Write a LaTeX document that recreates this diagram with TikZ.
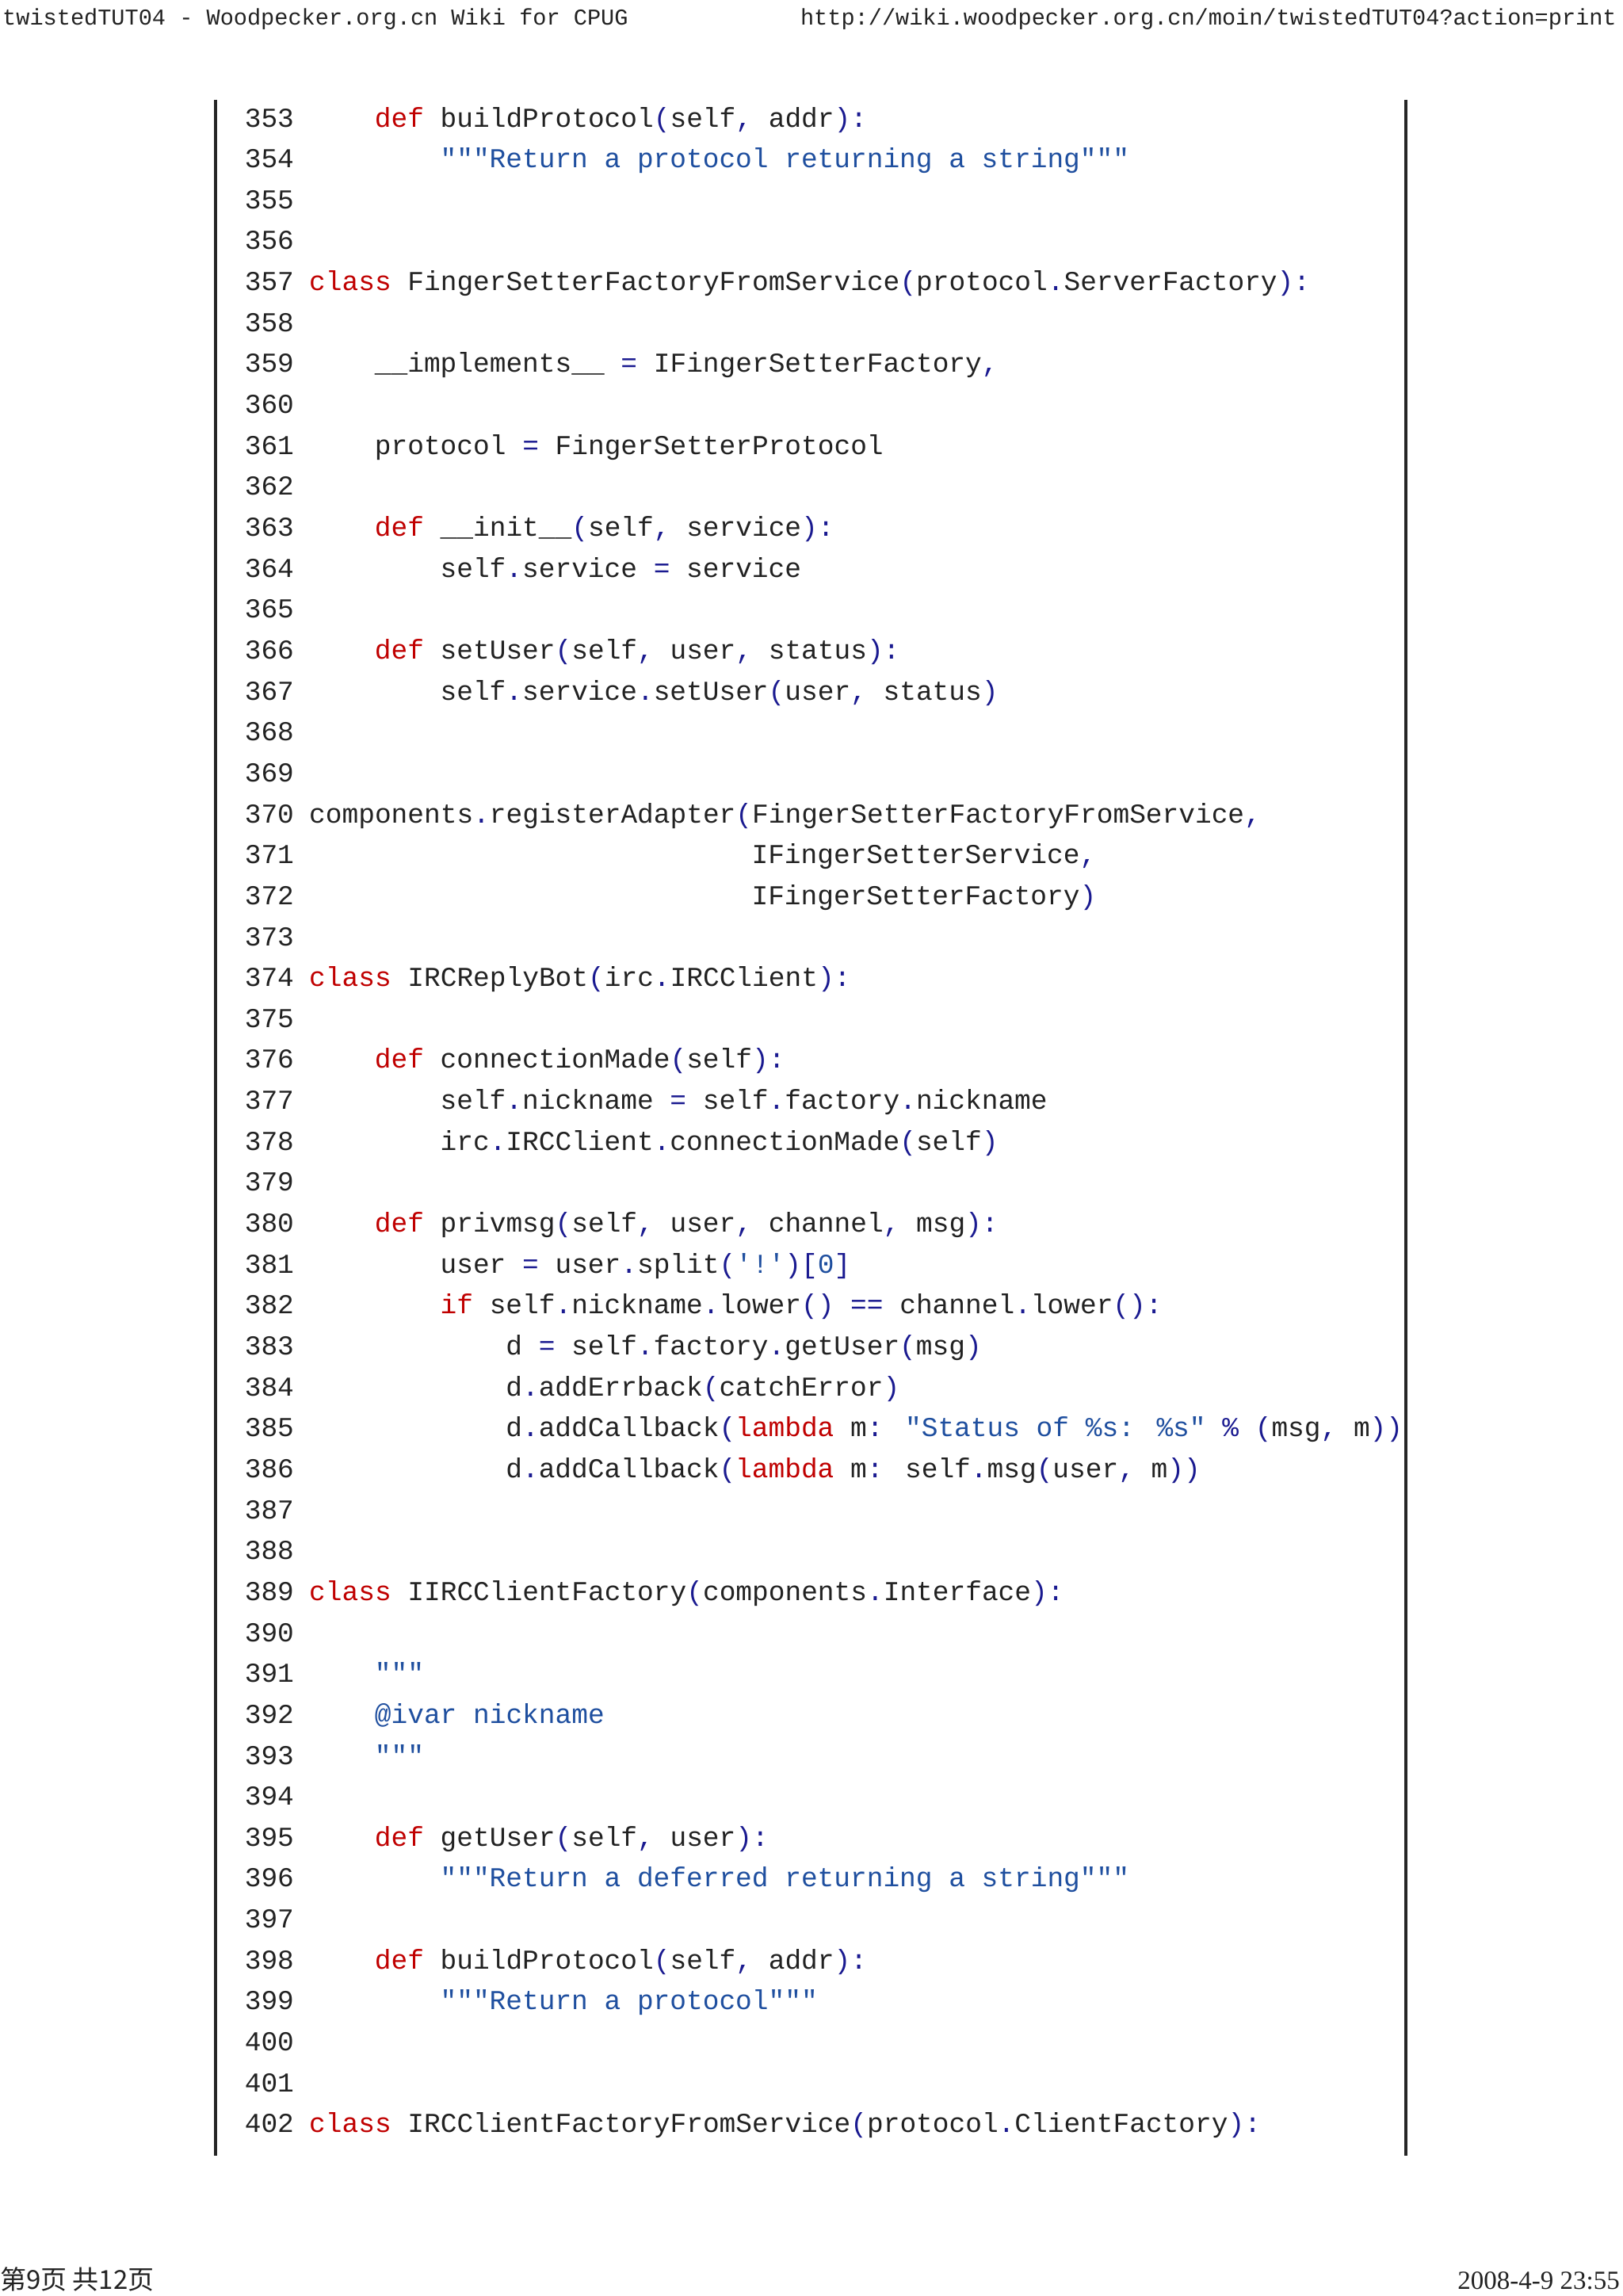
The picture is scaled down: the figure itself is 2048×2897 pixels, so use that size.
\documentclass[tikz,border=0pt]{standalone}
\usepackage{fontspec}
\setmainfont{Liberation Serif}
\newfontfamily\codef{Liberation Mono}
\newfontfamily\cjkf{Noto Sans CJK SC}
\definecolor{kw}{HTML}{C00000}
\definecolor{st}{HTML}{1F4F9F}
\definecolor{pu}{HTML}{1A1A90}
\definecolor{tx}{HTML}{222222}
\newcommand{\K}[1]{\textcolor{kw}{#1}}
\newcommand{\Sx}[1]{\textcolor{st}{#1}}
\newcommand{\Pu}[1]{\textcolor{pu}{#1}}
\newcommand{\CL}[3]{%
  \node[num] (n#1) at (308.6pt,{-(160+(#1-353)*51.65)*1pt}) {#1};
  \ifx\relax#3\relax\else
  \node[code] (c#1) at ({(390+#2*20.68)*1pt},{-(160+(#1-353)*51.65)*1pt}) {#3};\fi}
\tikzset{code/.style={anchor=base west,inner sep=0pt,text=tx,font=\codef\fontsize{34.5}{40}\selectfont},
num/.style={code},
hdr/.style={inner sep=0pt,text=tx,font=\codef\fontsize{28.6}{34}\selectfont},
bar/.style={line width=4pt,draw=black!85}}
\begin{document}
\begin{tikzpicture}[x=1pt,y=1pt]
\fill[white] (0,0) rectangle (2048,-2897);
\useasboundingbox (0,0) rectangle (2048,-2897);
\node[hdr,anchor=base west] (h1) at (3,-31) {twistedTUT04 - Woodpecker.org.cn Wiki for CPUG};
\node[hdr,anchor=base east] (h2) at (2040,-31) {http://wiki.woodpecker.org.cn/moin/twistedTUT04?action=print};
\coordinate (lt) at (271.7,-125.7); \coordinate (lb) at (271.7,-2720);
\coordinate (rt) at (1774,-125.7); \coordinate (rb) at (1774,-2720);
\draw[bar] (lt) -- (lb); \draw[bar] (rt) -- (rb);
\CL{353}{4}{\K{def} buildProtocol\Pu{(}self\Pu{,} addr\Pu{):}}
\CL{354}{8}{\Sx{"""Return a protocol returning a string"""}}
\CL{355}{0}{}
\CL{356}{0}{}
\CL{357}{0}{\K{class} FingerSetterFactoryFromService\Pu{(}protocol\Pu{.}ServerFactory\Pu{):}}
\CL{358}{0}{}
\CL{359}{4}{\_\_implements\_\_ \Pu{=} IFingerSetterFactory\Pu{,}}
\CL{360}{0}{}
\CL{361}{4}{protocol \Pu{=} FingerSetterProtocol}
\CL{362}{0}{}
\CL{363}{4}{\K{def} \_\_init\_\_\Pu{(}self\Pu{,} service\Pu{):}}
\CL{364}{8}{self\Pu{.}service \Pu{=} service}
\CL{365}{0}{}
\CL{366}{4}{\K{def} setUser\Pu{(}self\Pu{,} user\Pu{,} status\Pu{):}}
\CL{367}{8}{self\Pu{.}service\Pu{.}setUser\Pu{(}user\Pu{,} status\Pu{)}}
\CL{368}{0}{}
\CL{369}{0}{}
\CL{370}{0}{components\Pu{.}registerAdapter\Pu{(}FingerSetterFactoryFromService\Pu{,}}
\CL{371}{27}{IFingerSetterService\Pu{,}}
\CL{372}{27}{IFingerSetterFactory\Pu{)}}
\CL{373}{0}{}
\CL{374}{0}{\K{class} IRCReplyBot\Pu{(}irc\Pu{.}IRCClient\Pu{):}}
\CL{375}{0}{}
\CL{376}{4}{\K{def} connectionMade\Pu{(}self\Pu{):}}
\CL{377}{8}{self\Pu{.}nickname \Pu{=} self\Pu{.}factory\Pu{.}nickname}
\CL{378}{8}{irc\Pu{.}IRCClient\Pu{.}connectionMade\Pu{(}self\Pu{)}}
\CL{379}{0}{}
\CL{380}{4}{\K{def} privmsg\Pu{(}self\Pu{,} user\Pu{,} channel\Pu{,} msg\Pu{):}}
\CL{381}{8}{user \Pu{=} user\Pu{.}split\Pu{(}\Sx{'!'}\Pu{)[}\Sx{0}\Pu{]}}
\CL{382}{8}{\K{if} self\Pu{.}nickname\Pu{.}lower\Pu{()} \Pu{==} channel\Pu{.}lower\Pu{():}}
\CL{383}{12}{d \Pu{=} self\Pu{.}factory\Pu{.}getUser\Pu{(}msg\Pu{)}}
\CL{384}{12}{d\Pu{.}addErrback\Pu{(}catchError\Pu{)}}
\CL{385}{12}{d\Pu{.}addCallback\Pu{(}\K{lambda} m\Pu{:} \Sx{"Status of \%s: \%s"} \Pu{\%} \Pu{(}msg\Pu{,} m\Pu{))}}
\CL{386}{12}{d\Pu{.}addCallback\Pu{(}\K{lambda} m\Pu{:} self\Pu{.}msg\Pu{(}user\Pu{,} m\Pu{))}}
\CL{387}{0}{}
\CL{388}{0}{}
\CL{389}{0}{\K{class} IIRCClientFactory\Pu{(}components\Pu{.}Interface\Pu{):}}
\CL{390}{0}{}
\CL{391}{4}{\Sx{"""}}
\CL{392}{4}{\Sx{@ivar nickname}}
\CL{393}{4}{\Sx{"""}}
\CL{394}{0}{}
\CL{395}{4}{\K{def} getUser\Pu{(}self\Pu{,} user\Pu{):}}
\CL{396}{8}{\Sx{"""Return a deferred returning a string"""}}
\CL{397}{0}{}
\CL{398}{4}{\K{def} buildProtocol\Pu{(}self\Pu{,} addr\Pu{):}}
\CL{399}{8}{\Sx{"""Return a protocol"""}}
\CL{400}{0}{}
\CL{401}{0}{}
\CL{402}{0}{\K{class} IRCClientFactoryFromService\Pu{(}protocol\Pu{.}ClientFactory\Pu{):}}
\node[inner sep=0pt,anchor=base west,text=tx,font=\fontsize{33}{38}\selectfont] (f1) at (0,-2888) {\cjkf 第9页 共12页};
\node[inner sep=0pt,anchor=base east,text=tx,font=\fontsize{33}{38}\selectfont] (f2) at (2044,-2888) {2008-4-9 23:55};
\end{tikzpicture}
\end{document}
